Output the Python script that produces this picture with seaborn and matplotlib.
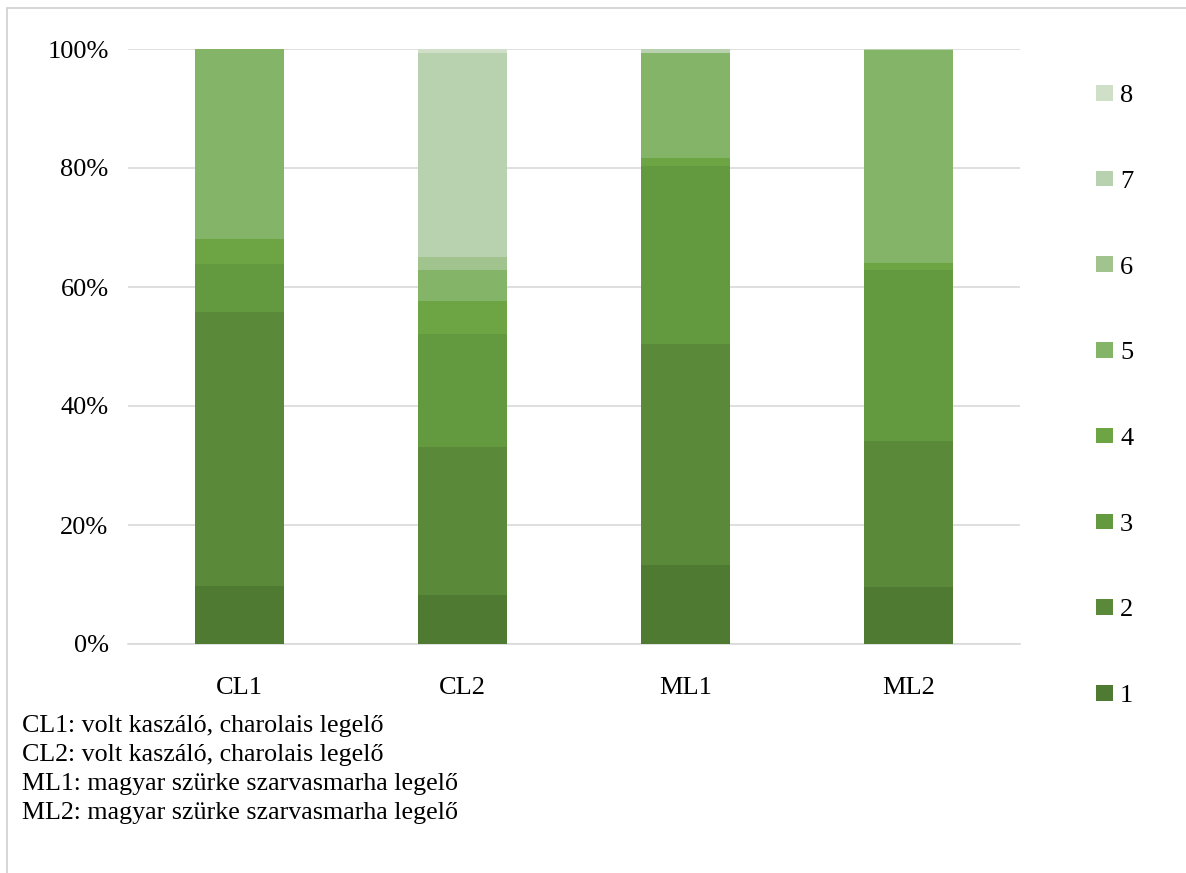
import matplotlib
matplotlib.use("Agg")
import matplotlib.pyplot as plt
from matplotlib.lines import Line2D
from matplotlib.patches import Patch
import numpy as np
import pandas as pd
import seaborn as sns

# Sites and the percentage share of each class (1 = bottom of the stack)
sites = ["CL1", "CL2", "ML1", "ML2"]
classes = ["1", "2", "3", "4", "5", "6", "7", "8"]
share_cl1 = [9.7, 46.1, 8.0, 4.3, 31.9, 0.0, 0.0, 0.0]
share_cl2 = [8.2, 24.9, 19.0, 5.6, 5.2, 2.2, 34.2, 0.7]
share_ml1 = [13.3, 37.1, 29.9, 1.4, 17.7, 0.0, 0.6, 0.0]
share_ml2 = [9.5, 24.7, 28.7, 1.1, 35.8, 0.0, 0.2, 0.0]
y_ticks = [0, 20, 40, 60, 80, 100]
notes = [
    "CL1: volt kaszáló, charolais legelő",
    "CL2: volt kaszáló, charolais legelő",
    "ML1: magyar szürke szarvasmarha legelő",
    "ML2: magyar szürke szarvasmarha legelő",
]

colors = ["#4E7A32", "#5A8A39", "#639A3F", "#6DA544",
          "#84B467", "#A1C38E", "#B8D1AE", "#D0E0C8"]

FS = 19

sns.set_theme(style="white")
plt.rcParams["font.family"] = ["Liberation Serif", "DejaVu Serif"]
plt.rcParams["font.size"] = FS
plt.rcParams["text.color"] = "black"
plt.rcParams["xtick.color"] = "black"
plt.rcParams["ytick.color"] = "black"

table = pd.DataFrame([share_cl1, share_cl2, share_ml1, share_ml2],
                     index=sites, columns=classes)

fig = plt.figure(figsize=(11.86, 8.73), dpi=100)
ax = fig.add_axes([128 / 1186, 1 - 644 / 873, 892 / 1186, 595 / 873])

bottom = np.zeros(len(sites))
for cls, col in zip(classes, colors):
    vals = table[cls].to_numpy()
    sns.barplot(x=sites, y=vals, bottom=bottom, color=col, width=0.4,
                linewidth=0, saturation=1, ax=ax, zorder=3)
    bottom = bottom + vals

ax.set_ylim(0, 100)
ax.set_xlim(-0.5, len(sites) - 0.5)
ax.set_yticks(y_ticks)
ax.set_yticklabels([f"{t}%" for t in y_ticks])
ax.yaxis.grid(True, color="#D9D9D9", linewidth=1.2, zorder=0)
ax.set_axisbelow(True)
for side in ["left", "right", "top"]:
    ax.spines[side].set_visible(False)
ax.spines["bottom"].set_color("#D9D9D9")
ax.spines["bottom"].set_linewidth(1.2)
ax.tick_params(axis="y", length=0, pad=14, labelsize=FS, labelcolor="black")
ax.tick_params(axis="x", length=0, pad=24, labelsize=FS, labelcolor="black")
ax.set_xlabel("")
ax.set_ylabel("")

# Legend listing classes from 8 (top) down to 1
handles = [Patch(facecolor=c, edgecolor="none") for c in colors][::-1]
fig.legend(handles, classes[::-1], loc="upper left",
           bbox_to_anchor=(1096 / 1186, 1 - 85 / 873),
           frameon=False, borderpad=0, borderaxespad=0,
           handlelength=0.64, handleheight=0.53, handletextpad=0.27,
           labelspacing=2.41, fontsize=FS, labelcolor="black")

# Site descriptions below the chart
for i, note in enumerate(notes):
    fig.text(22 / 1186, 1 - (726 + 29 * i) / 873, note,
             ha="left", va="center", fontsize=18.7, color="black")

# Outer chart frame
fig.add_artist(Line2D([7 / 1186, 1.0], [1 - 8 / 873, 1 - 8 / 873],
                      transform=fig.transFigure, color="#D0D0D0", linewidth=1.2))
fig.add_artist(Line2D([7 / 1186, 7 / 1186], [0.0, 1 - 8 / 873],
                      transform=fig.transFigure, color="#D0D0D0", linewidth=1.2))

fig.savefig("out.png", dpi=100, facecolor="white")
